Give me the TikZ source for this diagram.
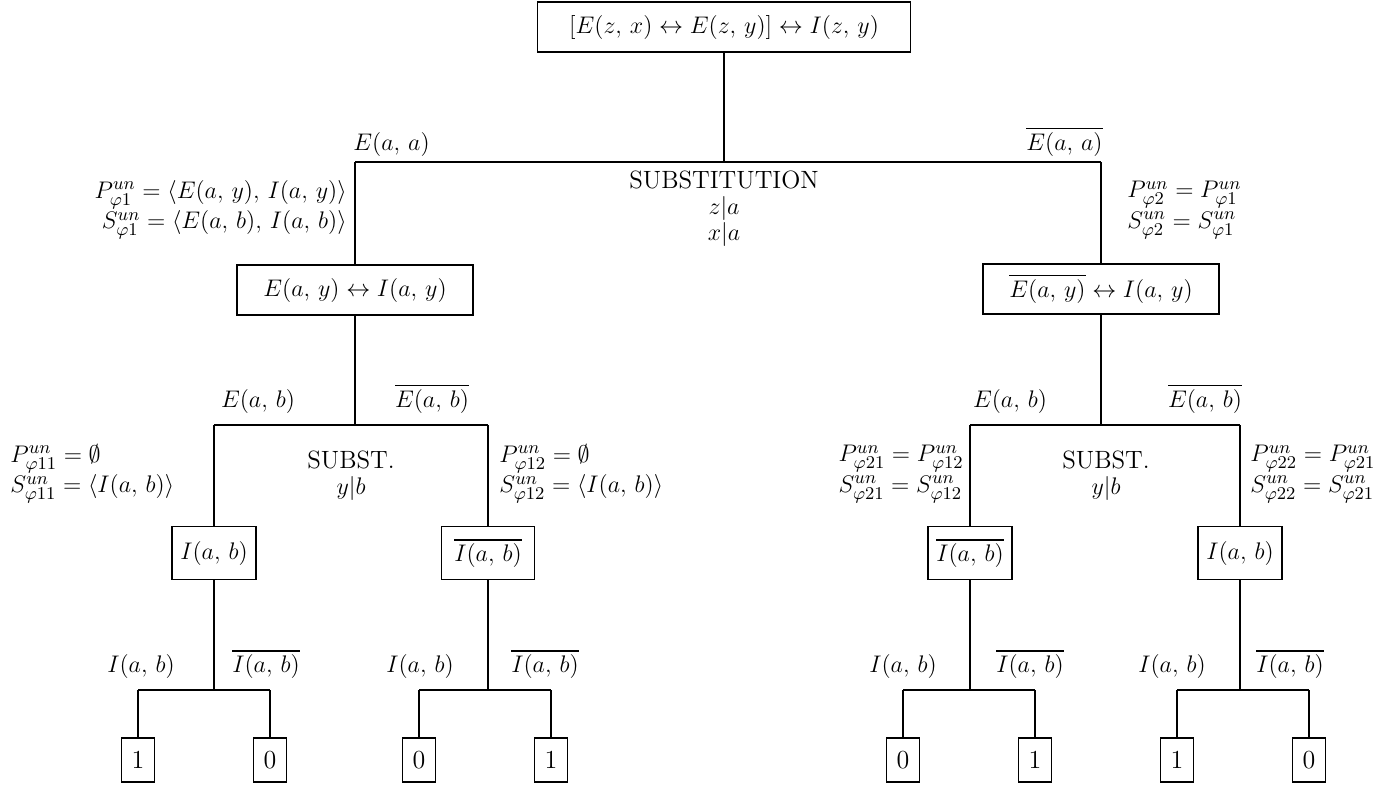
\documentclass[tikz,border=0pt]{standalone}
\usepackage{amssymb}
\usepackage{amsmath}
\usepackage{tikz}
\lineskiplimit=-100pt
\newcommand{\unv}[2]{#1^{un}_{\varphi#2}}
\newcommand{\Eab}{E(a,\,b)}
\newcommand{\nEab}{\overline{E(a,\,b)}}
\newcommand{\Iab}{I(a,\,b)}
\newcommand{\nIab}{\overline{I(a,\,b)}}

\begin{document}
\begin{tikzpicture}[
  x=0.5pt, y=-0.5pt,
  every node/.style={font=\fontsize{13}{13}\selectfont},
  box/.style={draw, line width=0.9pt, inner sep=0pt, minimum height=25pt},
  small/.style={box, minimum width=42pt, minimum height=26.5pt},
  leaf/.style={box, minimum width=16.5pt, minimum height=22pt},
  lbl/.style={inner sep=0pt, anchor=south},
  note/.style={inner sep=0pt, font=\fontsize{13}{15.2}\selectfont},
  subst/.style={inner sep=0pt, align=center, anchor=north, font=\fontsize{12.5}{13}\selectfont},
  tree/.style={line width=0.9pt}]

\useasboundingbox (0,0) rectangle (1390,784);

% formula boxes
\node[box, minimum width=186.5pt] (root) at (724,27) {$[E(z,\,x) \leftrightarrow E(z,\,y)] \leftrightarrow I(z,\,y)$};
\node[box, minimum width=118pt] (eL) at (355,290) {$E(a,\,y) \leftrightarrow I(a,\,y)$};
\node[box, minimum width=118pt] (eR) at (1101,289) {$\overline{E(a,\,y)} \leftrightarrow I(a,\,y)$};
\node[small] (ia) at (214,553) {$\Iab$};
\node[small, minimum width=46.5pt] (ib) at (488,553) {$\nIab$};
\node[small] (ic) at (970,553) {$\nIab$};
\node[small] (id) at (1240,553) {$\Iab$};

% leaves
\node[leaf] (va1) at (138,760) {1};
\node[leaf] (va0) at (270,760) {0};
\node[leaf] (vb0) at (419,760) {0};
\node[leaf] (vb1) at (551,760) {1};
\node[leaf] (vc0) at (903,760) {0};
\node[leaf] (vc1) at (1035,760) {1};
\node[leaf] (vd1) at (1177,760) {1};
\node[leaf] (vd0) at (1309,760) {0};

% branch points
\coordinate (c1m) at (724,162);
\coordinate (c1l) at (355,162);
\coordinate (c1r) at (1101,162);
\coordinate (c2al) at (214,425);
\coordinate (c2ar) at (488,425);
\coordinate (c2bl) at (970,425);
\coordinate (c2br) at (1240,425);
\coordinate (c3al) at (138,690);
\coordinate (c3ar) at (270,690);
\coordinate (c3bl) at (419,690);
\coordinate (c3br) at (551,690);
\coordinate (c3cl) at (903,690);
\coordinate (c3cr) at (1035,690);
\coordinate (c3dl) at (1177,690);
\coordinate (c3dr) at (1309,690);

% first substitution
\draw[tree] (root) -- (c1m);
\draw[tree] (c1l) -- (c1r);
\draw[tree] (c1l) -- (eL);
\draw[tree] (c1r) -- (eR);
\node[lbl, anchor=south west] (aa) at (353,157) {$E(a,\,a)$};
\node[lbl, anchor=south east] (naa) at (1103,157) {$\overline{E(a,\,a)}$};
\node[subst] (s1) at (724,170) {SUBSTITUTION\\$z|a$\\$x|a$};
\node[note, align=right, anchor=east] (ps1) at (347,210) {$\unv{P}{1} = \langle E(a,\,y),\, I(a,\,y)\rangle$\\$\unv{S}{1} = \langle E(a,\,b),\, I(a,\,b)\rangle$};
\node[note, align=left, anchor=west] (ps2) at (1127,210) {$\unv{P}{2} = \unv{P}{1}$\\$\unv{S}{2} = \unv{S}{1}$};

% second substitution
\draw[tree] (eL) -- (eL |- c2al);
\draw[tree] (eR) -- (eR |- c2bl);
\draw[tree] (c2al) -- (c2ar);
\draw[tree] (c2bl) -- (c2br);
\draw[tree] (c2al) -- (ia);
\draw[tree] (c2ar) -- (ib);
\draw[tree] (c2bl) -- (ic);
\draw[tree] (c2br) -- (id);
\node[lbl] (eab1) at (258,414) {$\Eab$};
\node[lbl] (neab1) at (432,414) {$\nEab$};
\node[lbl] (eab2) at (1010,414) {$\Eab$};
\node[lbl] (neab2) at (1205,414) {$\nEab$};
\node[subst] (s2) at (351,450) {SUBST.\\$y|b$};
\node[subst] (s3) at (1106,450) {SUBST.\\$y|b$};
\node[note, align=left, anchor=west] (ps11) at (10,474) {$\unv{P}{11} = \emptyset$\\$\unv{S}{11} = \langle \Iab\rangle$};
\node[note, align=left, anchor=west] (ps12) at (499,474) {$\unv{P}{12} = \emptyset$\\$\unv{S}{12} = \langle \Iab\rangle$};
\node[note, align=left, anchor=east] (ps21) at (964,474) {$\unv{P}{21} = \unv{P}{12}$\\$\unv{S}{21} = \unv{S}{12}$};
\node[note, align=left, anchor=west] (ps22) at (1250,474) {$\unv{P}{22} = \unv{P}{21}$\\$\unv{S}{22} = \unv{S}{21}$};

% truth values
\draw[tree] (ia) -- (ia |- c3al);
\draw[tree] (ib) -- (ib |- c3bl);
\draw[tree] (ic) -- (ic |- c3cl);
\draw[tree] (id) -- (id |- c3dl);
\draw[tree] (c3al) -- (c3ar);
\draw[tree] (c3bl) -- (c3br);
\draw[tree] (c3cl) -- (c3cr);
\draw[tree] (c3dl) -- (c3dr);
\draw[tree] (c3al) -- (va1);
\draw[tree] (c3ar) -- (va0);
\draw[tree] (c3bl) -- (vb0);
\draw[tree] (c3br) -- (vb1);
\draw[tree] (c3cl) -- (vc0);
\draw[tree] (c3cr) -- (vc1);
\draw[tree] (c3dl) -- (vd1);
\draw[tree] (c3dr) -- (vd0);
\node[lbl] (ta) at (141,679) {$\Iab$};
\node[lbl] (nta) at (266,679) {$\nIab$};
\node[lbl] (tb) at (420,679) {$\Iab$};
\node[lbl] (ntb) at (545,679) {$\nIab$};
\node[lbl] (tc) at (903,679) {$\Iab$};
\node[lbl] (ntc) at (1030,679) {$\nIab$};
\node[lbl] (td) at (1172,679) {$\Iab$};
\node[lbl] (ntd) at (1290,679) {$\nIab$};
\end{tikzpicture}
\end{document}
